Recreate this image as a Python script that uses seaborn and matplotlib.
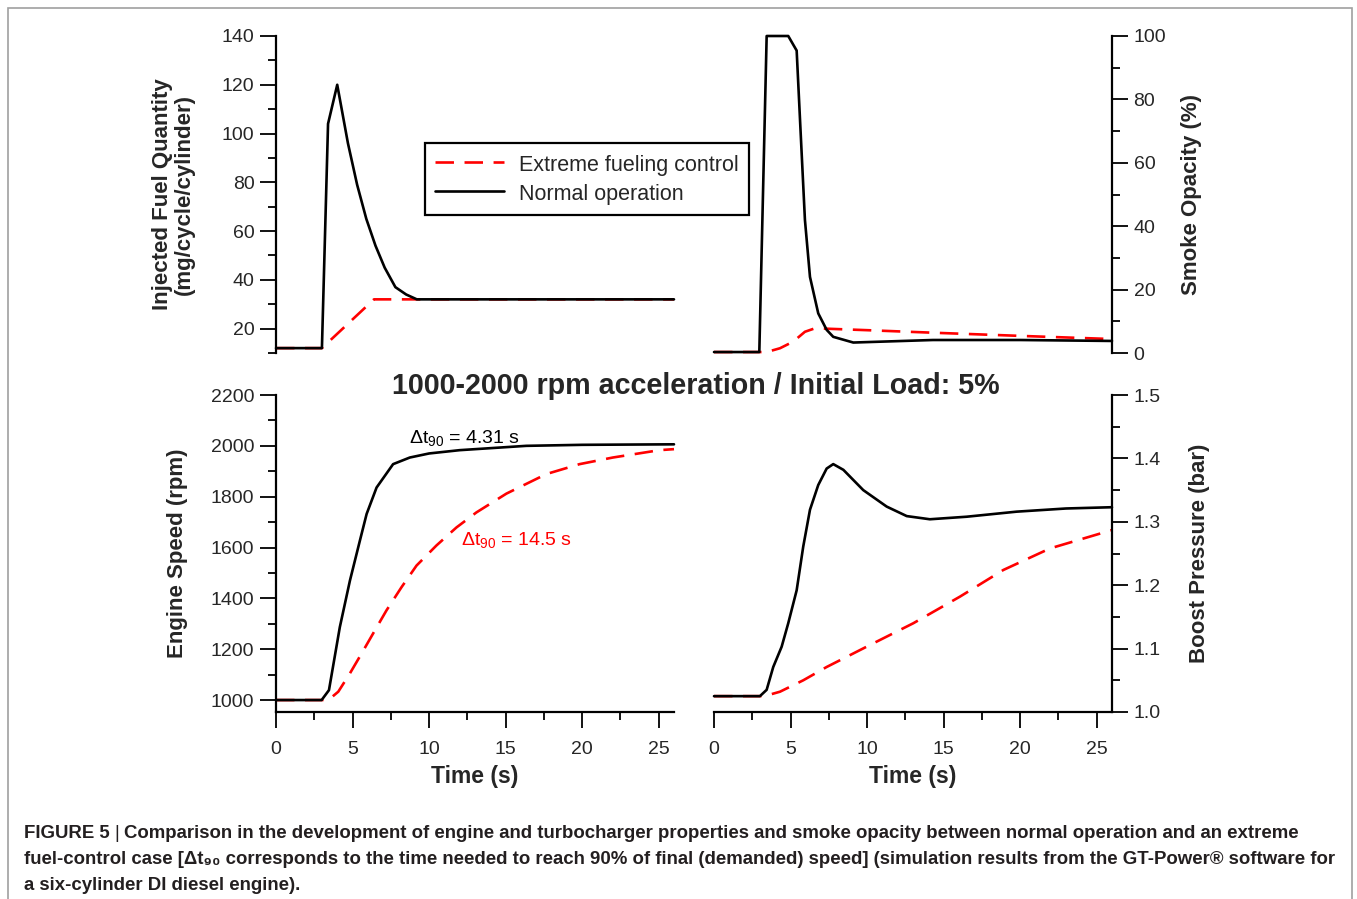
import matplotlib
matplotlib.use("Agg")
import matplotlib.pyplot as plt
from matplotlib.ticker import MultipleLocator
from matplotlib.patches import Rectangle
import seaborn as sns

# values (time in s)
t_fuel_norm = [0, 3.0, 3.4, 4.0, 4.7, 5.3, 5.9, 6.5, 7.1, 7.8, 8.5, 9.2, 26]
fuel_norm = [12, 12, 104, 120, 96, 79, 65, 54, 45, 37, 34, 32, 32]
t_fuel_ext = [0, 3.0, 6.4, 26]
fuel_ext = [12, 12, 32, 32]

t_smoke_norm = [0, 2.96, 3.44, 4.85, 5.4, 5.62, 5.94, 6.27, 6.81, 7.36, 7.79, 9.1, 14.3, 20, 26]
smoke_norm = [0.3, 0.3, 100, 100, 95.4, 73.5, 42, 24, 12.5, 7.3, 5.1, 3.3, 4.1, 4.1, 3.8]
t_smoke_ext = [0, 3.0, 3.44, 4.31, 5.18, 5.94, 6.6, 10, 14.3, 20, 26]
smoke_ext = [0.3, 0.3, 0.3, 1.5, 3.6, 6.7, 7.8, 7.2, 6.4, 5.4, 4.4]

t_speed_norm = [0, 2.98, 3.46, 4.17, 4.83, 5.48, 5.92, 6.57, 7.65, 8.74, 10, 12, 16.35, 20, 26]
speed_norm = [1000, 1000, 1039, 1287, 1470, 1627, 1732, 1836, 1928, 1954, 1970, 1983, 2000, 2004, 2006]
t_speed_ext = [0, 3.0, 3.46, 4.07, 4.83, 5.59, 6.46, 7.22, 8.2, 9.18, 10.48, 11.79, 13.09, 15.05,
               17.66, 19.83, 22.0, 25.05, 26]
speed_ext = [1000, 1000, 1002, 1033, 1105, 1183, 1274, 1353, 1444, 1529, 1608, 1679, 1738, 1812,
             1889, 1928, 1954, 1983, 1987]

t_boost_norm = [0, 3.0, 3.44, 3.87, 4.42, 4.85, 5.4, 5.83, 6.27, 6.81, 7.36, 7.79, 8.45, 9.75,
                11.28, 12.59, 14.1, 16.5, 19.77, 23.0, 26]
boost_norm = [1.025, 1.025, 1.035, 1.071, 1.103, 1.14, 1.192, 1.261, 1.319, 1.358, 1.384, 1.391,
              1.382, 1.35, 1.324, 1.309, 1.304, 1.308, 1.316, 1.321, 1.323]
t_boost_ext = [0, 3.0, 3.44, 4.31, 5.83, 7.36, 9.97, 13.02, 16.07, 18.9, 21.95, 26]
boost_ext = [1.025, 1.025, 1.026, 1.032, 1.05, 1.071, 1.103, 1.14, 1.182, 1.224, 1.258, 1.287]

label_ext = "Extreme fueling control"
label_norm = "Normal operation"

sns.set_style("ticks")
plt.rcParams["font.family"] = ["Liberation Sans", "DejaVu Sans"]
plt.rcParams["mathtext.fontset"] = "custom"
plt.rcParams["mathtext.rm"] = "Liberation Sans"
plt.rcParams["mathtext.it"] = "Liberation Sans"
plt.rcParams["mathtext.bf"] = "Liberation Sans:bold"

W, H = 1357, 899
fig = plt.figure(figsize=(W / 100, H / 100), dpi=100)


def px_axes(x0, y0, x1, y1):
    return fig.add_axes([x0 / W, 1 - y1 / H, (x1 - x0) / W, (y1 - y0) / H])


ax_fuel = px_axes(276, 36, 674, 353)
ax_smoke = px_axes(714, 36, 1112, 353)
ax_speed = px_axes(276, 395, 674, 712)
ax_boost = px_axes(714, 395, 1112, 712)

dash = (0, (7, 4))
panels = [
    (ax_fuel, t_fuel_ext, fuel_ext, t_fuel_norm, fuel_norm),
    (ax_smoke, t_smoke_ext, smoke_ext, t_smoke_norm, smoke_norm),
    (ax_speed, t_speed_ext, speed_ext, t_speed_norm, speed_norm),
    (ax_boost, t_boost_ext, boost_ext, t_boost_norm, boost_norm),
]
for ax, te, ye, tn, yn in panels:
    sns.lineplot(x=te, y=ye, ax=ax, color="#ff0000", linestyle=dash, linewidth=1.9,
                 estimator=None, label=label_ext, clip_on=False)
    sns.lineplot(x=tn, y=yn, ax=ax, color="black", linewidth=1.9,
                 estimator=None, label=label_norm, clip_on=False)
    ax.get_legend().remove()
    ax.set_xlim(0, 26)
    ax.xaxis.set_major_locator(MultipleLocator(5))
    ax.xaxis.set_minor_locator(MultipleLocator(2.5))
    ax.tick_params(which="major", length=11.5, width=1.3, labelsize=14, color="black")
    ax.tick_params(which="minor", length=6, width=1.3, color="black")
    ax.tick_params(axis="x", pad=9.5)
    ax.tick_params(axis="y", pad=4)
    for s in ax.spines.values():
        s.set_linewidth(1.6)
        s.set_color("black")
    ax.set_facecolor("none")

ax_fuel.set_ylim(10, 140)
ax_fuel.yaxis.set_major_locator(MultipleLocator(20))
ax_fuel.yaxis.set_minor_locator(MultipleLocator(10))
ax_smoke.set_ylim(0, 100)
ax_smoke.yaxis.set_major_locator(MultipleLocator(20))
ax_smoke.yaxis.set_minor_locator(MultipleLocator(10))
ax_speed.set_ylim(953, 2200)
ax_speed.yaxis.set_major_locator(MultipleLocator(200))
ax_speed.yaxis.set_minor_locator(MultipleLocator(100))
ax_boost.set_ylim(1.0, 1.5)
ax_boost.yaxis.set_major_locator(MultipleLocator(0.1))
ax_boost.yaxis.set_minor_locator(MultipleLocator(0.05))
ax_boost.yaxis.set_major_formatter(plt.FormatStrFormatter("%.1f"))

# spines / tick sides
for ax in (ax_fuel, ax_speed):
    ax.spines["right"].set_visible(False)
    ax.spines["top"].set_visible(False)
for ax in (ax_smoke, ax_boost):
    ax.spines["left"].set_visible(False)
    ax.spines["top"].set_visible(False)
    ax.yaxis.tick_right()
    ax.yaxis.set_label_position("right")
for ax in (ax_fuel, ax_smoke):
    ax.spines["bottom"].set_visible(False)
    ax.tick_params(axis="x", which="both", bottom=False, labelbottom=False)

lab = dict(fontsize=16, fontweight="bold")
ax_fuel.set_ylabel("Injected Fuel Quantity\n(mg/cycle/cylinder)", linespacing=1.0, **lab)
ax_fuel.yaxis.set_label_coords(-0.205, 0.5)
ax_speed.set_ylabel("Engine Speed (rpm)", **lab)
ax_speed.yaxis.set_label_coords(-0.22, 0.5)
ax_smoke.set_ylabel("Smoke Opacity (%)", **lab)
ax_smoke.yaxis.set_label_coords(1.174, 0.5)
ax_boost.set_ylabel("Boost Pressure (bar)", **lab)
ax_boost.yaxis.set_label_coords(1.194, 0.5)
for ax in (ax_speed, ax_boost):
    ax.set_xlabel("Time (s)", fontsize=16.5, fontweight="bold", labelpad=5)
    ax.set_xticks([0, 5, 10, 15, 20, 25])
for ax in (ax_fuel, ax_smoke):
    ax.set_xlabel("")

ax_speed.text(8.7, 2011, r"$\Delta$t$_{90}$ = 4.31 s", fontsize=14, color="black",
              ha="left", va="baseline")
ax_speed.text(12.1, 1611, r"$\Delta$t$_{90}$ = 14.5 s", fontsize=14, color="#ff0000",
              ha="left", va="baseline")

fig.text(696 / W, 1 - 386 / H, "1000-2000 rpm acceleration / Initial Load: 5%",
         fontsize=20.6, fontweight="bold", ha="center", va="center")

handles = ax_fuel.get_lines()[:2]
fig.legend(handles=handles, labels=[label_ext, label_norm], loc="upper left",
           bbox_to_anchor=(425 / W, 1 - 143 / H), bbox_transform=fig.transFigure,
           fontsize=15.5, frameon=True, fancybox=False, edgecolor="black", framealpha=1,
           borderaxespad=0, borderpad=0.45, handlelength=3.2, handletextpad=0.72,
           labelspacing=0.3, handleheight=1.15)
leg = fig.legends[0]
leg.get_frame().set_linewidth(1.6)

# figure caption, placed piece by piece
cap_y = [833, 859, 885]
cap_size = 13.4
cap_color = "#231f20"
renderer = fig.canvas.get_renderer()


def cap_text(x_px, y_px, s, bold=True):
    t = fig.text(x_px / W, 1 - y_px / H, s, fontsize=cap_size,
                 fontweight="bold" if bold else "normal",
                 ha="left", va="center", color=cap_color)
    bb = t.get_window_extent(renderer)
    return bb.x1


x_end = cap_text(24, cap_y[0], "FIGURE 5")
x_end = cap_text(x_end + 5, cap_y[0], "|", bold=False)
cap_text(x_end + 5, cap_y[0],
         "Comparison in the development of engine and turbocharger properties and smoke "
         "opacity between normal operation and an extreme")
cap_text(24, cap_y[1],
         "fuel-control case [Δt₉₀ corresponds to the time needed to reach 90% of final "
         "(demanded) speed] (simulation results from the GT-Power® software for")
cap_text(24, cap_y[2], "a six-cylinder DI diesel engine).")

fig.patches.append(Rectangle((8 / W, -0.01), (1352 - 8) / W, 1 - 8 / H + 0.01,
                             transform=fig.transFigure, fill=False,
                             edgecolor="#a0a0a0", linewidth=1.2))

fig.savefig("out.png", dpi=100)
